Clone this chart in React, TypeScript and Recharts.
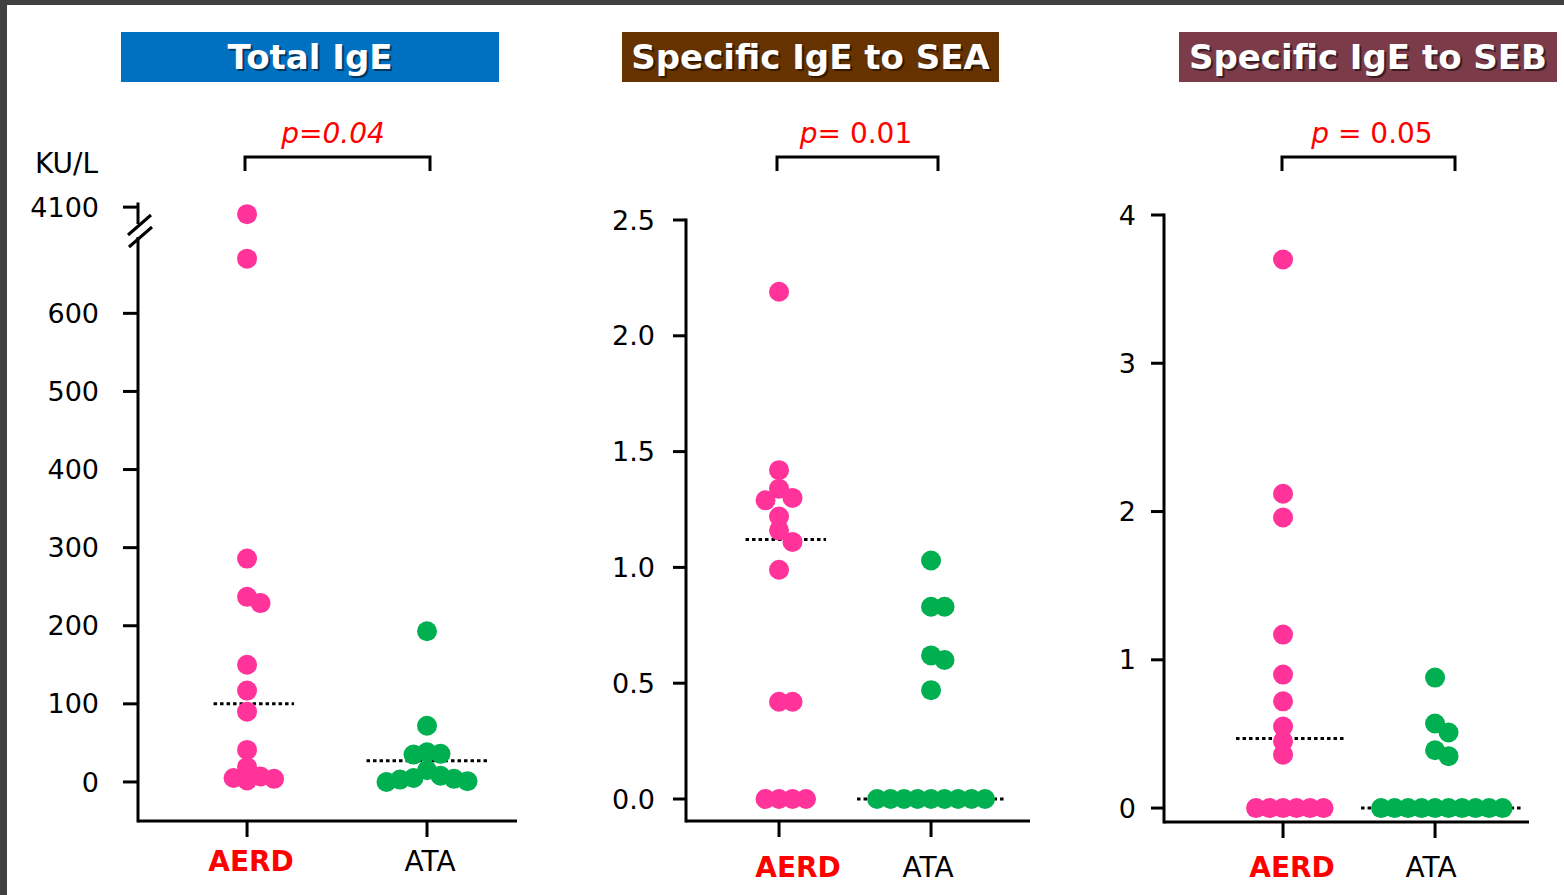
import { ScatterChart, Scatter, XAxis, YAxis, ReferenceLine } from "recharts";

const FONT = "'DejaVu Sans', Verdana, sans-serif";
const PINK = "#FF3399";
const GREEN = "#00B050";
const W = 1564;
const H = 895;

const GROUPS = ["AERD", "ATA"];

// Total IgE, KU/L (axis is broken above 700)
const TOTAL_AERD = [3250, 670, 286, 237, 229, 150, 117, 90, 41, 19, 7, 5, 4, 2];
const TOTAL_ATA = [193, 72, 38, 36, 35, 15, 8, 5, 4, 3, 1, 0];
const TOTAL_MEDIAN = [100, 27];
const TOTAL_TICKS = [0, 100, 200, 300, 400, 500, 600, 4100];

// Specific IgE to SEA
const SEA_AERD = [2.19, 1.42, 1.34, 1.3, 1.29, 1.22, 1.16, 1.11, 0.99, 0.42, 0.42, 0, 0, 0, 0];
const SEA_ATA = [1.03, 0.83, 0.83, 0.62, 0.6, 0.47, 0, 0, 0, 0, 0, 0, 0, 0, 0];
const SEA_MEDIAN = [1.12, 0];
const SEA_TICKS = [0, 0.5, 1, 1.5, 2, 2.5];

// Specific IgE to SEB
const SEB_AERD = [3.7, 2.12, 1.96, 1.17, 0.9, 0.72, 0.55, 0.45, 0.36, 0, 0, 0, 0, 0, 0];
const SEB_ATA = [0.88, 0.57, 0.51, 0.39, 0.35, 0, 0, 0, 0, 0, 0, 0, 0, 0, 0];
const SEB_MEDIAN = [0.47, 0];
const SEB_TICKS = [0, 1, 2, 3, 4];

// squeeze the part above the break
function broken(v: number) {
  return v <= 700 ? v : 700 + ((v - 700) * 36) / 3400;
}

// simple beeswarm: spread overlapping dots sideways
function swarm(values: number[], center: number, pxX: number, pxY: number) {
  const step = 13.5;
  const minDist = 13;
  const order = values.map((v, i) => ({ v, i })).sort((a, b) => b.v - a.v);
  const placed: { dx: number; py: number }[] = [];
  const out: { x: number; y: number; dx: number }[] = new Array(values.length);
  for (const { v, i } of order) {
    const py = v * pxY;
    let dx = 0;
    for (let k = 0; k < 40; k++) {
      const cand = k === 0 ? 0 : (k % 2 ? 1 : -1) * Math.ceil(k / 2) * step;
      if (placed.every((p) => Math.hypot(p.dx - cand, p.py - py) >= minDist)) {
        dx = cand;
        break;
      }
    }
    placed.push({ dx, py });
    out[i] = { x: center + dx / pxX, y: v, dx };
  }
  return out;
}

interface PanelCfg {
  left: number;
  width: number;
  plotLeft: number;
  plotRight: number;
  plotTop: number;
  plotBottom: number;
  yWidth: number;
  yTickMargin: number;
  yTickSize: number;
  xDomain: [number, number];
  yDomain: [number, number];
  yTicks: number[];
  yFormat: (v: number) => string;
  aerd: number[];
  ata: number[];
  medians: number[];
  labelDx: number[];
  labelDy: number;
}

const R = 10;

function Panel({ cfg }: { cfg: PanelCfg }) {
  const plotW = cfg.plotRight - cfg.plotLeft;
  const plotH = cfg.plotBottom - cfg.plotTop;
  const pxX = plotW / (cfg.xDomain[1] - cfg.xDomain[0]);
  const pxY = plotH / (cfg.yDomain[1] - cfg.yDomain[0]);
  const series = [swarm(cfg.aerd, 1, pxX, pxY), swarm(cfg.ata, 2, pxX, pxY)];
  const colors = [PINK, GREEN];

  const margin = {
    top: cfg.plotTop,
    bottom: H - cfg.plotBottom - 60,
    left: cfg.plotLeft - cfg.left - cfg.yWidth,
    right: cfg.left + cfg.width - cfg.plotRight,
  };

  const XTick = (props: any) => {
    const { x, y, payload } = props;
    const i = Math.round(payload.value) - 1;
    const name = GROUPS[i];
    const isAerd = name === "AERD";
    return (
      <text
        x={x + cfg.labelDx[i]}
        y={y + cfg.labelDy}
        textAnchor="middle"
        fontFamily={FONT}
        fontSize={28}
        fontWeight={isAerd ? 700 : 400}
        fill={isAerd ? "#FF0000" : "#000"}
      >
        {name}
      </text>
    );
  };

  return (
    <div style={{ position: "absolute", left: cfg.left, top: 0 }}>
      <ScatterChart width={cfg.width} height={H} margin={margin}>
        <XAxis
          type="number"
          dataKey="x"
          domain={cfg.xDomain}
          allowDataOverflow
          ticks={[1, 2]}
          interval={0}
          height={60}
          tickSize={16}
          tickMargin={0}
          tick={XTick}
          axisLine={{ stroke: "#000", strokeWidth: 3 }}
          tickLine={{ stroke: "#000", strokeWidth: 3 }}
        />
        <YAxis
          type="number"
          dataKey="y"
          domain={cfg.yDomain}
          allowDataOverflow
          ticks={cfg.yTicks}
          interval={0}
          width={cfg.yWidth}
          tickSize={cfg.yTickSize}
          tickMargin={cfg.yTickMargin}
          tickFormatter={cfg.yFormat}
          tick={{ fill: "#000", fontSize: 27, fontFamily: FONT }}
          axisLine={{ stroke: "#000", strokeWidth: 3, strokeLinecap: "square" }}
          tickLine={{ stroke: "#000", strokeWidth: 3 }}
        />
        {series.map((pts, g) => (
          <Scatter
            key={GROUPS[g]}
            name={GROUPS[g]}
            data={pts}
            fill={colors[g]}
            isAnimationActive={false}
            shape={(p: any) => <circle cx={p.cx} cy={p.cy} r={R} fill={colors[g]} />}
          />
        ))}
        {series.map((pts, g) => {
          const pad = (R + 10) / pxX;
          const lo = Math.min(...pts.map((p) => p.x)) - pad;
          const hi = Math.max(...pts.map((p) => p.x)) + pad;
          return (
            <ReferenceLine
              key={"m" + g}
              segment={[
                { x: lo, y: cfg.medians[g] },
                { x: hi, y: cfg.medians[g] },
              ]}
              stroke="#000"
              strokeWidth={3}
              strokeDasharray="3.5 3"
            />
          );
        })}
      </ScatterChart>
    </div>
  );
}

const PANELS: PanelCfg[] = [
  {
    left: 0,
    width: 560,
    plotLeft: 138,
    plotRight: 517,
    plotTop: 204,
    plotBottom: 821,
    yWidth: 110,
    yTickMargin: 24,
    yTickSize: 15,
    xDomain: [0.394, 2.5],
    yDomain: [-50, 740],
    yTicks: TOTAL_TICKS.map(broken),
    yFormat: (v) => String(TOTAL_TICKS[TOTAL_TICKS.map(broken).indexOf(v)] ?? v),
    aerd: TOTAL_AERD.map(broken),
    ata: TOTAL_ATA.map(broken),
    medians: TOTAL_MEDIAN,
    labelDx: [4, 3],
    labelDy: 34,
  },
  {
    left: 560,
    width: 500,
    plotLeft: 686,
    plotRight: 1030,
    plotTop: 220,
    plotBottom: 821,
    yWidth: 100,
    yTickMargin: 18,
    yTickSize: 13,
    xDomain: [0.388, 2.651],
    yDomain: [-0.095, 2.5],
    yTicks: SEA_TICKS,
    yFormat: (v) => v.toFixed(1),
    aerd: SEA_AERD,
    ata: SEA_ATA,
    medians: SEA_MEDIAN,
    labelDx: [19, -3],
    labelDy: 40,
  },
  {
    left: 1060,
    width: 504,
    plotLeft: 1164,
    plotRight: 1529,
    plotTop: 215,
    plotBottom: 822,
    yWidth: 80,
    yTickMargin: 15,
    yTickSize: 13,
    xDomain: [0.217, 2.618],
    yDomain: [-0.094, 4],
    yTicks: SEB_TICKS,
    yFormat: (v) => String(v),
    aerd: SEB_AERD,
    ata: SEB_ATA,
    medians: SEB_MEDIAN,
    labelDx: [9, -4],
    labelDy: 39,
  },
];

const TITLES = [
  { text: "Total IgE", x: 121, w: 378, color: "#0070C0" },
  { text: "Specific IgE to SEA", x: 622, w: 377, color: "#663300" },
  { text: "Specific IgE to SEB", x: 1179, w: 378, color: "#7B3B49" },
];

const BRACKETS = [
  [245, 430],
  [777, 938],
  [1282, 1455],
];

export default function App() {
  return (
    <div
      style={{
        position: "absolute",
        left: 0,
        top: 0,
        width: W,
        height: H,
        background: "#fff",
        overflow: "hidden",
      }}
    >
      {PANELS.map((cfg, i) => (
        <Panel key={i} cfg={cfg} />
      ))}
      <svg
        width={W}
        height={H}
        style={{ position: "absolute", left: 0, top: 0, pointerEvents: "none" }}
        fontFamily={FONT}
      >
        {/* frame */}
        <rect x={0} y={0} width={W} height={5} fill="#404040" />
        <rect x={0} y={0} width={7} height={H} fill="#404040" />

        {TITLES.map((t) => (
          <g key={t.text}>
            <rect x={t.x} y={32} width={t.w} height={50} fill={t.color} />
            <text
              x={t.x + t.w / 2 + 2}
              y={71}
              textAnchor="middle"
              fontSize={34}
              fontWeight={700}
              fill="#000"
              opacity={0.5}
            >
              {t.text}
            </text>
            <text x={t.x + t.w / 2} y={69} textAnchor="middle" fontSize={34} fontWeight={700} fill="#fff">
              {t.text}
            </text>
          </g>
        ))}

        {/* p values */}
        <text x={333} y={143} textAnchor="middle" fontSize={28} fontStyle="italic" fill="#FF0000">
          p=0.04
        </text>
        <text x={856} y={143} textAnchor="middle" fontSize={28} fill="#FF0000" style={{ whiteSpace: "pre" }}>
          <tspan fontStyle="italic">p</tspan>
          <tspan>= 0.01</tspan>
        </text>
        <text x={1372} y={143} textAnchor="middle" fontSize={28} fill="#FF0000" style={{ whiteSpace: "pre" }}>
          <tspan fontStyle="italic">p</tspan>
          <tspan> = 0.05</tspan>
        </text>

        {BRACKETS.map(([a, b], i) => (
          <path key={i} d={`M${a},171 V157 H${b} V171`} stroke="#000" strokeWidth={3} fill="none" />
        ))}

        {/* unit and axis break */}
        <text x={35} y={173} fontSize={28} fill="#000">
          KU/L
        </text>
        <rect x={133} y={224} width={10} height={13} fill="#fff" />
        <line x1={128} y1={235} x2={151} y2={215} stroke="#000" strokeWidth={3} />
        <line x1={129} y1={247} x2={152} y2={227} stroke="#000" strokeWidth={3} />
      </svg>
    </div>
  );
}
